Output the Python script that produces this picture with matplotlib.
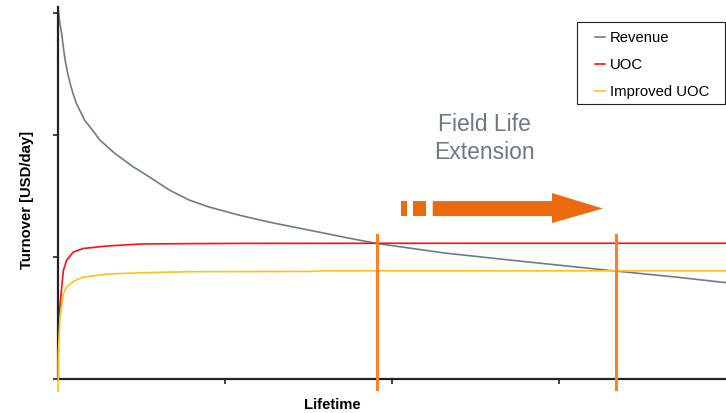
"""Field life extension: revenue vs. unit operating cost over lifetime."""

import matplotlib

matplotlib.use("Agg")
import matplotlib.pyplot as plt
from matplotlib.patches import Polygon, Rectangle

# Revenue decline curve
revenue_x = [0, 0.006, 0.012, 0.022, 0.032, 0.042, 0.056, 0.071, 0.09, 0.11,
             0.135, 0.16, 0.19, 0.25, 0.34, 0.45, 0.548, 0.667, 0.786, 0.905,
             1.083, 1.262, 1.44, 1.619, 1.738, 1.905, 2.315, 2.708, 3.107,
             3.34, 3.70, 4.0]
revenue_y = [3.05, 2.97, 2.91, 2.83, 2.72, 2.62, 2.52, 2.43, 2.34, 2.26,
             2.19, 2.12, 2.07, 1.96, 1.85, 1.74, 1.656, 1.549, 1.467, 1.41,
             1.344, 1.287, 1.238, 1.189, 1.156, 1.112, 1.033, 0.975, 0.918,
             0.885, 0.836, 0.79]

# Unit operating cost
uoc_x = [0, 0.008, 0.022, 0.032, 0.052, 0.091, 0.15, 0.29, 0.49, 0.79,
         1.08, 2.0, 4.0]
uoc_y = [0.40, 0.54, 0.75, 0.89, 0.975, 1.04, 1.07, 1.09, 1.107, 1.11,
         1.112, 1.113, 1.113]

# Improved unit operating cost
improved_x = [0, 0.002, 0.012, 0.032, 0.052, 0.091, 0.15, 0.29, 0.49, 0.79,
              1.5, 1.6, 4.0]
improved_y = [-0.10, 0.21, 0.51, 0.70, 0.755, 0.80, 0.835, 0.86, 0.871,
              0.88, 0.882, 0.887, 0.887]

# end of economic life: original and extended
cutoffs = [1.91, 3.34]

GREY = "#6e7c87"
RED = "#ff1010"
GOLD = "#ffc21a"
ORANGE = "#ff7f27"
ARROW = "#ec6a0e"

W, H = 726, 413


def draw_arrow(ax) -> None:
    """Dashed block arrow under the annotation."""
    y0, y1 = 1.336, 1.459
    for x0, x1 in [(2.054, 2.089), (2.125, 2.202)]:
        ax.add_patch(Rectangle((x0, y0), x1 - x0, y1 - y0, color=ARROW, lw=0))
    ax.add_patch(Polygon(
        [(2.244, y0), (2.958, y0), (2.958, 1.279), (3.262, 1.398),
         (2.958, 1.525), (2.958, y1), (2.244, y1)],
        closed=True, color=ARROW, lw=0))


if __name__ == "__main__":
    plt.rcParams["font.family"] = ["Liberation Sans", "DejaVu Sans"]
    fig = plt.figure(figsize=(W / 100, H / 100), dpi=100)
    ax = fig.add_axes([0.0799, 0.0823, 0.9201, 0.9007])

    ax.plot(revenue_x, revenue_y, color=GREY, lw=1.2, label="Revenue")
    ax.plot(uoc_x, uoc_y, color=RED, lw=1.2, label="UOC")
    ax.plot(improved_x, improved_y, color=GOLD, lw=1.2, label="Improved UOC",
            clip_on=False, zorder=3)
    for x in cutoffs:
        ax.plot([x, x], [-0.08, 1.18], color=ORANGE, lw=2.2, clip_on=False,
                zorder=4)

    draw_arrow(ax)
    ax.text(2.555, 1.97, "Field Life\nExtension", color="#6a7985",
            fontsize=16.5, ha="center", va="center", linespacing=1.25)

    ax.set_xlim(0, 4)
    ax.set_ylim(0, 3.05)
    ax.set_xticks([1, 2, 3])
    ax.set_yticks([0, 1, 2, 3])
    ax.set_xticklabels([])
    ax.set_yticklabels([])
    ax.tick_params(length=3.6, width=1.2, color="#222222")
    for side in ["top", "right"]:
        ax.spines[side].set_visible(False)
    for side in ["left", "bottom"]:
        ax.spines[side].set_linewidth(1.6)
        ax.spines[side].set_color("#222222")

    # legend with a hand-placed frame (wider left padding than matplotlib's)
    ax.legend(loc="upper left", bbox_to_anchor=(595 / W, 1 - 31 / H),
              bbox_transform=fig.transFigure, fontsize=10.75, frameon=False,
              handlelength=0.7, handletextpad=0.3, labelspacing=0.88,
              borderpad=0, borderaxespad=0)
    fig.patches.append(Rectangle((577 / W, 1 - 104 / H), 148 / W, 82 / H,
                                 transform=fig.transFigure, fill=False,
                                 edgecolor="#222222", lw=0.8))

    fig.text(332 / W, 1 - 405 / H, "Lifetime", fontsize=10.7,
             fontweight="bold", ha="center", va="center")
    fig.text(27 / W, 1 - 200 / H, "Turnover [USD/day]", fontsize=10.7,
             fontweight="bold", ha="center", va="center", rotation=90)

    fig.savefig("out.png", dpi=100)
